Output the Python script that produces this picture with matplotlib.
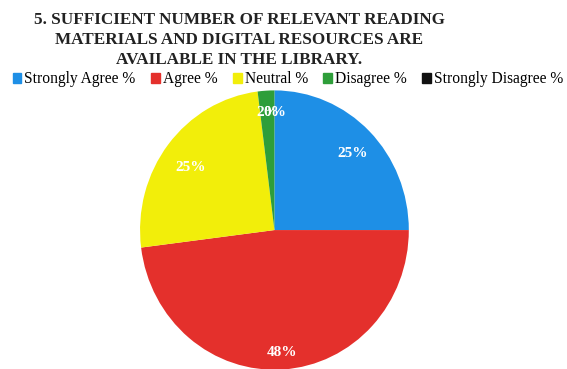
import matplotlib
matplotlib.use("Agg")
import matplotlib.pyplot as plt

categories = ["Strongly Agree %", "Agree %", "Neutral %", "Disagree %", "Strongly Disagree %"]
values = [25, 48, 25, 2, 0]
colors = ["#1E8FE6", "#E4302C", "#F2EE0A", "#2E9E3A", "#111111"]
title = "5. SUFFICIENT NUMBER OF RELEVANT READING\nMATERIALS AND DIGITAL RESOURCES ARE\nAVAILABLE IN THE LIBRARY."

plt.rcParams['font.family'] = ['Liberation Serif', 'DejaVu Serif']
fig = plt.figure(figsize=(5.67, 3.69), dpi=100)
fig.patch.set_facecolor("white")

ax = fig.add_axes([0.247, -0.002, 0.474, 0.757])
wedges, texts, autotexts = ax.pie(values, colors=colors, startangle=90, counterclock=False,
                                  autopct=lambda p: f"{p:.0f}%", pctdistance=0.84,
                                  wedgeprops=dict(linewidth=0))
for t in autotexts:
    t.set_color("white")
    t.set_fontweight("bold")
    t.set_fontsize(11)
autotexts[0].set_position((0.58, 0.55))
autotexts[1].set_position((0.06, -0.88))
autotexts[2].set_position((-0.62, 0.45))
ax.set_aspect('auto')
ax.set_xlim(-1, 1)
ax.set_ylim(-1, 1)

fig.text(0.422, 0.968, title, ha="center", va="top", fontsize=12.3, fontweight="bold",
         linespacing=1.33, color="#222222")

handles = [plt.Rectangle((0, 0), 1, 1, color=c) for c in colors]
fig.legend(handles, categories, loc="center", bbox_to_anchor=(0.508, 0.785), ncol=5,
           frameon=False, fontsize=11.2, handlelength=0.55, handleheight=0.6,
           handletextpad=0.2, columnspacing=1.0)

fig.savefig("out.png", dpi=100)
